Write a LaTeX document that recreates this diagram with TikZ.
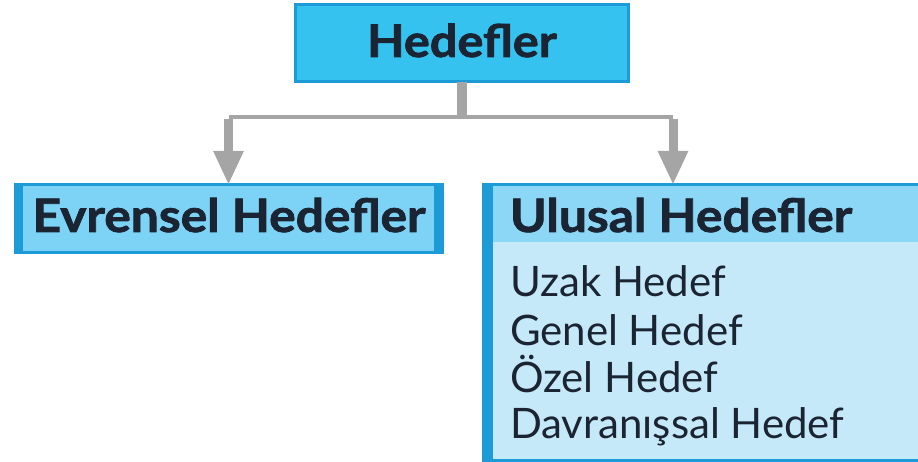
\documentclass[tikz,border=0pt]{standalone}
\usepackage{fontspec}
\usepackage{graphicx}
\setmainfont{Lato}
\newfontfamily\heavyfont{Lato}[BoldFeatures={FakeBold=1.6}]
\usetikzlibrary{arrows.meta}
\definecolor{topfill}{HTML}{36C2EF}
\definecolor{boxborder}{HTML}{1C9BD6}
\definecolor{leftfill}{HTML}{7DD3F5}
\definecolor{headfill}{HTML}{8BD7F5}
\definecolor{bodyfill}{HTML}{C6E9F9}
\definecolor{conngray}{HTML}{A5A5A5}
\definecolor{txt}{HTML}{1A2433}
\newcommand{\ttl}[1]{\scalebox{1.08}[1]{#1}}
\tikzset{
  boxnode/.style={draw=boxborder, line width=3pt, rectangle, inner sep=0pt, outer sep=0pt},
  titletext/.style={text=txt, font=\fontsize{46}{50}\heavyfont\bfseries, inner sep=0pt, outer sep=0pt},
  itemtext/.style={text=txt, font=\fontsize{42}{46}\selectfont, inner sep=0pt, outer sep=0pt},
  conn/.style={draw=conngray, line width=10pt},
  arr/.style={draw=conngray, line width=9pt, -{Triangle[width=28pt,length=34pt]}, fill=conngray},
}
\begin{document}
\begin{tikzpicture}[x=1pt,y=-1pt]
\useasboundingbox (0,0) rectangle (918,462);
% top box
\node[boxnode, fill=topfill, minimum width=333pt, minimum height=77pt] (top) at (461.5,43.5) {};
\node[titletext, anchor=base, font=\fontsize{45}{50}\heavyfont\bfseries] (toplbl) at (462,57) {\ttl{Hedefler}};
% left box
\node[boxnode, fill=leftfill, minimum width=427pt, minimum height=68pt] (left) at (228.5,219) {};
\fill[boxborder] (left.north west) rectangle ++(8,68);
\fill[boxborder] (left.north east) rectangle ++(-8,68);
\node[titletext, anchor=base] (leftlbl) at (229,232) {\ttl{Evrensel Hedefler}};
% right box
\node[boxnode, fill=bodyfill, minimum width=442pt, minimum height=275pt, anchor=north west] (right) at (483,185) {};
\node[boxnode, draw=none, fill=headfill, minimum width=436pt, minimum height=56pt, anchor=north west] (righthead) at (486.5,186.5) {};
\fill[boxborder] (right.north west) rectangle ++(10,275);
\node[titletext, anchor=base west] (rightlbl) at (510,232) {\ttl{Ulusal Hedefler}};
\node[itemtext, anchor=base west] (i1) at (510,297) {Uzak Hedef};
\node[itemtext, anchor=base west] (i2) at (510,345) {Genel Hedef};
\node[itemtext, anchor=base west] (i3) at (510,392) {Özel Hedef};
\node[itemtext, anchor=base west] (i4) at (510,438) {Davranışsal Hedef};
% connectors
\coordinate (jn) at (top.south |- 0,117);
\coordinate (jl) at (left.north |- 0,117);
\coordinate (jr) at (673,117);
\draw[conn] (top.south) -- (jn);
\draw[draw=conngray, line width=4.5pt] (jl) -- (jr);
\draw[arr] ([yshift=-2pt]jl) -- (left.north);
\draw[arr] ([yshift=-2pt]jr) -- (jr |- right.north);
\end{tikzpicture}
\end{document}
